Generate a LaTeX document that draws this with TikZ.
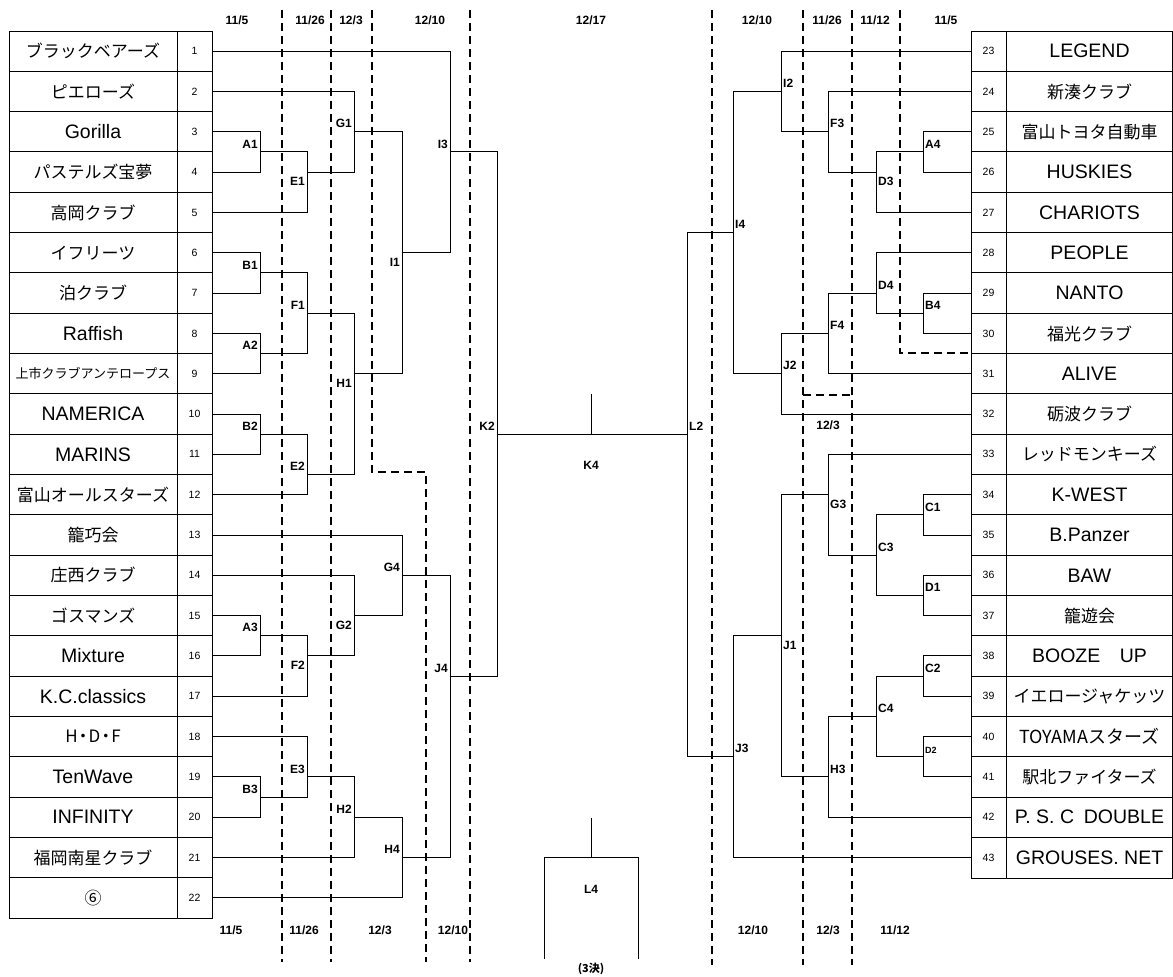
\documentclass[tikz,border=0pt]{standalone}
\usepackage{fontspec}
\setmainfont{Liberation Sans}
\newfontfamily\jp{Noto Sans CJK JP}
\usetikzlibrary{calc, positioning}
\newcommand{\jn}{\jp\fontsize{17}{19}\selectfont}
\tikzset{
	team/.style = {font=\fontsize{19.5}{21}\selectfont, inner sep=0pt},
	num/.style = {font=\fontsize{10.5}{12}\selectfont, inner sep=0pt},
	lab/.style = {font=\fontsize{12}{13}\selectfont\bfseries, inner sep=2pt},
	la/.style = {lab, anchor=south east, yshift=1.5pt},
	lb/.style = {lab, anchor=north east, yshift=-3pt},
	ra/.style = {lab, anchor=south west, yshift=1.5pt},
	rb/.style = {lab, anchor=north west, yshift=-3pt},
	date/.style = {font=\fontsize{12}{13}\selectfont\bfseries},
	bline/.style = {line width=1pt},
	guide/.style = {line width=1.8pt, dash pattern=on 8pt off 5pt},
}
% match point: name, x of the bracket, half row of the exit, upper entry, lower entry
\newcommand{\bmatch}[5]{
	\coordinate (#1) at (#2,{31+20.16*#3});
	\draw[bline] (#4) -- (#4 -| #1) -- (#5 -| #1) -- (#5);
}

\begin{document}
\begin{tikzpicture}[x=1pt, y=-1pt]
		\useasboundingbox (0,0) rectangle (1173,977);
		
		% tables
		\draw[bline] (9,31) rectangle (212,918);
		\draw[bline] (177,31) -- (177,918);
		\foreach \k in {1,...,21} \draw[bline] (9,{31+40.32*\k}) -- (212,{31+40.32*\k});
		\draw[bline] (971,31) rectangle (1172.5,878);
		\draw[bline] (1006,31) -- (1006,878);
		\foreach \k in {1,...,20} \draw[bline] (971,{31+40.32*\k}) -- (1172.5,{31+40.32*\k});
		
		\foreach \n/\t in {1/{\jn ブラックベアーズ}, 2/{\jn ピエローズ}, 3/Gorilla, 4/{\jn パステルズ宝夢}, 5/{\jn 高岡クラブ}, 6/{\jn イフリーツ}, 7/{\jn 泊クラブ}, 8/Raffish, 9/{\jp\fontsize{13}{15}\selectfont 上市クラブアンテロープス}, 10/NAMERICA, 11/MARINS, 12/{\jn 富山オールスターズ}, 13/{\jn 籠巧会}, 14/{\jn 庄西クラブ}, 15/{\jn ゴスマンズ}, 16/Mixture, 17/K.C.classics, 18/{\jn H{\kern-3pt}・{\kern-3pt}D{\kern-3pt}・{\kern-3pt}F}, 19/TenWave, 20/INFINITY, 21/{\jn 福岡南星クラブ}, 22/{\jn ⑥}} {
			\pgfmathsetmacro\yy{31+40.32*(\n-0.5)}
			\node[team] (name\n) at (93,\yy) {\t};
			\node[num] (no\n) at (194.5,\yy) {\n};
			\coordinate (t\n) at (212,\yy);
		}
		\foreach \n/\t in {23/LEGEND, 24/{\jn 新湊クラブ}, 25/{\jn 富山トヨタ自動車}, 26/HUSKIES, 27/CHARIOTS, 28/PEOPLE, 29/NANTO, 30/{\jn 福光クラブ}, 31/ALIVE, 32/{\jn 砺波クラブ}, 33/{\jn レッドモンキーズ}, 34/K-WEST, 35/B.Panzer, 36/BAW, 37/{\jn 籠遊会}, 38/BOOZE\quad UP, 39/{\jn イエロージャケッツ}, 40/{\jp\fontsize{18}{19}\selectfont TOYAMAスターズ}, 41/{\jn 駅北ファイターズ}, 42/P.\ S.\ C\enspace DOUBLE, 43/GROUSES.\ NET} {
			\pgfmathsetmacro\yy{31+40.32*(\n-22.5)}
			\node[team] (name\n) at (1089.5,\yy) {\t};
			\node[num] (no\n) at (988.5,\yy) {\n};
			\coordinate (t\n) at (971,\yy);
		}
		
		% round dividers
		\draw[guide] (282,10) -- (282,962);
		\draw[guide] (331,10) -- (331,962);
		\draw[guide] (372,10) -- (372,472) -- (426,472) -- (426,962);
		\draw[guide] (470,10) -- (470,962);
		\draw[guide] (712,10) -- (712,965);
		\draw[guide] (803,10) -- (803,965);
		\draw[guide] (852,10) -- (852,965);
		\draw[guide] (803,395) -- (852,395);
		\draw[guide] (900,10) -- (900,353) -- (971,353);
		
		% left bracket
		\bmatch{A1}{260}{6}{t3}{t4}
		\bmatch{B1}{260}{12}{t6}{t7}
		\bmatch{A2}{260}{16}{t8}{t9}
		\bmatch{B2}{260}{20}{t10}{t11}
		\bmatch{A3}{260}{30}{t15}{t16}
		\bmatch{B3}{260}{38}{t19}{t20}
		\bmatch{E1}{307}{7}{A1}{t5}
		\bmatch{F1}{307}{14}{B1}{A2}
		\bmatch{E2}{307}{22}{B2}{t12}
		\bmatch{F2}{307}{31}{A3}{t17}
		\bmatch{E3}{307}{37}{t18}{B3}
		\bmatch{G1}{354}{5}{t2}{E1}
		\bmatch{H1}{354}{17}{F1}{E2}
		\bmatch{G2}{354}{29}{t14}{F2}
		\bmatch{H2}{354}{39}{E3}{t21}
		\bmatch{I1}{402}{11}{G1}{H1}
		\bmatch{G4}{402}{27}{t13}{G2}
		\bmatch{H4}{402}{41}{H2}{t22}
		\bmatch{I3}{450}{6}{t1}{I1}
		\bmatch{J4}{450}{32}{G4}{H4}
		\bmatch{K2}{497}{20}{I3}{J4}
		
		% right bracket
		\bmatch{A4}{923}{6}{t25}{t26}
		\bmatch{B4}{923}{14}{t29}{t30}
		\bmatch{C1}{923}{24}{t34}{t35}
		\bmatch{D1}{923}{28}{t36}{t37}
		\bmatch{C2}{923}{32}{t38}{t39}
		\bmatch{D2}{923}{36}{t40}{t41}
		\bmatch{D3}{876}{7}{A4}{t27}
		\bmatch{D4}{876}{13}{t28}{B4}
		\bmatch{C3}{876}{26}{C1}{D1}
		\bmatch{C4}{876}{34}{C2}{D2}
		\bmatch{F3}{828}{5}{t24}{D3}
		\bmatch{F4}{828}{15}{D4}{t31}
		\bmatch{G3}{828}{23}{t33}{C3}
		\bmatch{H3}{828}{37}{C4}{t42}
		\bmatch{I2}{781}{3}{t23}{F3}
		\bmatch{J2}{781}{17}{F4}{t32}
		\bmatch{J1}{781}{30}{G3}{H3}
		\bmatch{I4}{733}{10}{I2}{J2}
		\bmatch{J3}{733}{36}{J1}{t43}
		\bmatch{L2}{687}{20}{I4}{J3}
		
		% final and third place
		\draw[bline] (K2) -- (L2);
		\coordinate (K4) at (591,{31+20.16*20});
		\draw[bline] (K4) -- ++(0,-40);
		\coordinate (L4) at (591,{31+20.16*41});
		\draw[bline] (L4) -- ++(0,-40);
		\draw[bline] ($(L4)+(-47,101)$) |- ($(L4)+(47,0)$) -- ++(0,101);
		
		% match labels
		\foreach \m in {A1,G1,I3,B1,F1,A2,B2,E2,K2,G4,A3,J4,E3,B3,H2,H4} \node[la] at (\m) {\m};
		\foreach \m in {E1,I1,H1,G2,F2} \node[lb] at (\m) {\m};
		\foreach \m in {A4,F3,I2,I4,D4,B4,F4,J2,C1,C3,D1,C2,C4,H3,J3,L2} \node[ra] at (\m) {\m};
		\foreach \m in {D3,G3,J1} \node[rb] at (\m) {\m};
		\node[ra, font=\fontsize{9}{10}\selectfont\bfseries] at (D2) {D2};
		\node[lab] (K4label) at (591,465) {K4};
		\node[lab] (L4label) at (591,889) {L4};
		\node[lab, font=\jp\fontsize{11}{12}\selectfont\bfseries] (third) at (591,969) {(3決)};
		
		% round dates
		\foreach \x/\d in {237/11\slash 5, 310/11\slash 26, 351/12\slash 3, 430/12\slash 10, 591/12\slash 17, 757/12\slash 10, 827/11\slash 26, 875/11\slash 12, 946/11\slash 5} \node[date] at (\x,20) {\d};
		\foreach \x/\d in {231/11\slash 5, 304/11\slash 26, 380/12\slash 3, 453/12\slash 10, 753/12\slash 10, 828/12\slash 3, 895/11\slash 12} \node[date] at (\x,930) {\d};
		\node[date] (midthree) at (828,425) {12/3};
\end{tikzpicture}
\end{document}
